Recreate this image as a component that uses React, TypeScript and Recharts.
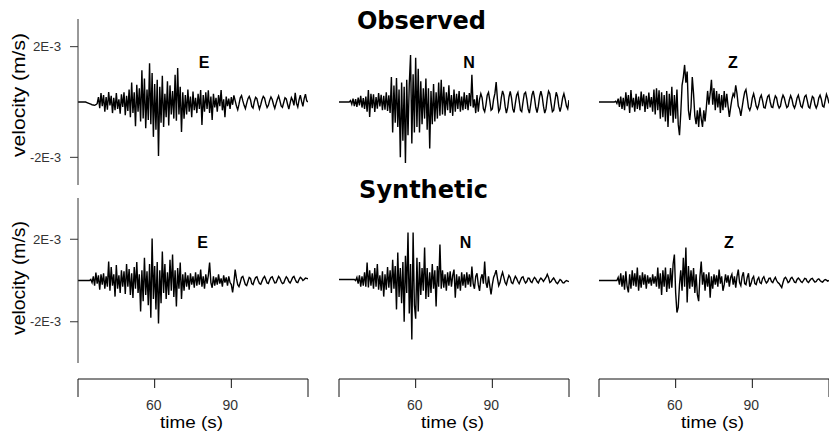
import { LineChart, Line, XAxis, YAxis } from "recharts";

// Three-component seismograms, observed vs synthetic.
// Velocities are stored in units of 1e-4 m/s, sampled every 0.5 s from t = 30 s.
const START_S = 30;
const STEP_S = 0.5;
const TIME_TICKS = [30, 60, 90, 120];
const VEL_TICKS = [-20, 20];
const COMPONENTS = ["E", "N", "Z"];

const obsE = [
  0, 0, 0, 0, 0, 0, 0, -0.2, -0.4, -0.6, -0.8, -1.0, -1.1, -1.2, -1.0, -0.6, 1.8, -2.2, 3.2, -1.5,
  2.5, -3.5, 1.8, -2.8, 3.6, -1.2, 2.2, -4, 1.5, -3, 3.2, -2.5, 1, -4.2, 2.8, -1.8, 3.5, -4.8, 2.2, -3.2,
  4.5, -5.5, 7, -4, 3.5, -8.8, 6.2, -3.5, 5, -7, 11.5, -6, 8.5, -9.5, 4.5, -6.5, 14, -8, 10.5, -12.6,
  6.5, -10, 8, -19.5, 5.5, -7.5, 9.5, -9, 3, -5.5, 7.5, -8.5, 6, -4.5, 4, -6, 9.8, -6.8, 12.3, -4.5,
  5.5, -10.8, 3.5, -6, 2.5, -4.5, 4.5, -3.5, 2, -5.5, 3.8, -3, 1.5, -4, 3, -2.5, 4.3, -8.3, 2.5, -3.5,
  3.5, -2.5, 4.2, -4, 2, -6.5, 3, -2, 1.5, -3.5, 2.5, -1.5, 4.3, -3, 1, -5.5, 2, -1.5, 1.2, -2.5,
  1.8, -1, 2.4, 0.5, -1.5, -2.8, -0.8, 1.5, 2.3, 0.4, -1.2, -2.4, -0.5, 1.2, 2, 0.8, -1.6, -2.2, 0.2, 1.7,
  1.2, -0.8, -2.5, -1, 0.8, 2, 1.4, -0.6, -2, -1.2, 0.6, 1.8, 0.9, -0.9, -2.3, -0.6, 1, 2.2, 0.5, -1.4,
  -1.9, -0.2, 1.5, 1.1, -0.8, -2.6, -0.4, 1.6, 0.6, -1.2, 3.3, -0.5, -1.8, 0.8, 2.5, 0.2, -1.6, 1.2, 2.8, 0.4,
  0,
];

const obsN = [
  0, 0, 0, 0, 0, 0, 0, 0, 0, 0.5, -0.8, 1.2, -1.5, 1, -1.8, 1.6, -1.2, 2.2, -2, 1.4,
  -2.5, 2, -3.5, 4.3, -5.4, 3, -2.2, 2.8, -3.6, 1.8, -2.4, 3.2, -1.6, 2.6, -3, 2.2, -2.8, 3.5, -3.2, 2.4,
  -4, 9, -11, 6, -7.5, 8.7, -9, 4.5, -20, 7, -14, 5.5, -22, 8, -12, 6.5, 17, -15, 10, -11,
  16, -9, 12, -11, 7.5, -8, 5, -6, 8.5, -10, 5, -16.8, 4, -8, 6.5, -7, 3.5, -6, 7, -5,
  8, -4.5, 5.5, -5, 3.5, -3, 6, -4, 2.5, -5, 4.5, -3.5, 3, -2.5, 4, -3.5, 2, -3, 3.5, -2.5,
  2.5, -3, 3.2, -1.5, 9.8, -2, 1, -4, 2.5, -3.5, 1, 3, 1.5, -2.5, -3.5, -1, 2.5, 3.5, 0.5, -3,
  -2.5, 1, 3, 7.2, 1, -3.5, -2.5, 1.5, 4, 2.5, -1.5, -4, -2, 1.8, 3.8, 1.5, -2.5, -3.8, -0.5, 2.5,
  3.5, 0.5, -3, -3.5, 0, 3, 3.5, 1, -2.5, -4, -1, 2.5, 4, 1.5, -2, -3.8, -1.5, 2, 3.9, 2,
  -1.5, -4, -2.5, 1.5, 3.9, 3, -0.5, -3.5, -3, 0.5, 3.5, 2, -1.5, -3.5, -1.5, 1.5, 3, 1, -1.5, -2.5,
  0.7,
];

const obsZ = [
  0, 0, 0, 0, 0, 0, 0, 0, 0, 0, 0, 0, 0, 0.3, -0.5, 1.2, -1.8, 2, -2.5, 1.5,
  -3, 3.5, -1.5, 2.5, -4, 4.3, -2, 1.5, -3.5, 3, -2.5, 2, -3, 3.8, -1.5, 2.8, -3.6, 2.2, -2.5, 3.4,
  -2, 1.8, -3.5, 4.5, -4.5, 5, -3, 4.2, -6, 3.5, -5.5, 2.5, -7, 4, -9, 3, -5, 5.5, -7.5, 2.5,
  -6, 4.5, -8, -12, -4, 6, 9, 13.4, 7, 11, -3, -6.5, -2, 9, 3, -5, -8, -3, -9, -2,
  -6, -9, -3, -7, -2, 4, -1, 3, 8, -1, 5, -3, 4, -2, 3, -4, 2.5, -3, 4, -2,
  3, -1.5, -5.4, -2, 1, 3, 2, 6, 3, -1.5, -2.5, -5, -2, 1, 3.5, 4.5, 1.5, -2, -3, -1.5,
  1.5, 3, 1, -1.5, -2.5, -1, 1.5, 2.5, 0.5, -2, -2.2, 0, 2, 2.5, 0, -1.8, -2, 0.5, 2.2, 1.5,
  -1, -2.2, -1.5, 1, 2.5, 1.5, -0.5, -2, -1.5, 0.8, 2.3, 1, -1.2, -2.2, -0.8, 1.5, 2.5, 0.5, -1.5, -2,
  0, 2, 2.5, 0.5, -1.8, -2.2, 0, 2, 1.5, -1, -2.2, -1, 1.5, 2.5, 1, -1.5, -1.8, 0.5, 2.8, 1.5,
  -0.5,
];

const synE = [
  0, 0, 0, 0, 0, 0, 0, 0, 0, 0, 0.5, -1, 2, -2.5, 3.9, -1.5, 2.5, -4.4, 3, -2,
  3.5, -4, 2, -3, 9.2, -5, 6.5, -2.5, 3, -7.8, 7.5, -4, 2.5, -6, 5, -3, 4.5, -6.5, 8, -3,
  5.5, -7, 3.5, -8.5, 6.5, -4, 9, -6, 3, -15, 5, -10, 11, -7, 4.5, -12, 8, -18, 20.4, -9,
  7, -14, 9, -20.9, 5, -11, 14, -6, 8, -9, 4, -7, 10, -5, 12.6, -8, 5, -12.6, 6, -4,
  8.7, -9, 3, -5, 4, -3, 2.5, -4.4, 3.5, -2, 2, -3.5, 4, -2.5, 3, -2, 5.3, -3, 2, -4,
  3, -1.5, 2.5, 8.7, -1, -3.5, 2, -2.5, 1.5, -2, 3, -1.5, 1, -3, 2.5, -1, 1.5, -2.5, 2, -1,
  -2, -5.8, -1, 5.3, 1, -2, -3, -1, 1.5, 2, 0, -2, -2.5, -0.5, 1.5, 1, -1.5, -2, 0, 1.5,
  1.8, 0, -1.5, -1.8, -0.3, 1.2, 2, 0.5, -1.2, -1.5, 0.2, 1.5, 1.8, 0.2, -1.2, -1, 0.5, 2, 1.2, -0.5,
  -1.5, -1.2, 0.5, 1.8, 1, -0.5, -1.2, 0, 1.5, 2, 0.5, -0.8, -1, 0.5, 1.5, 1, 0, 0.5, 1.2, 1,
  0.8,
];

const synN = [
  0.5, 0.5, 0.5, 0.5, 0.5, 0.5, 0.5, 0.5, 0.5, 0.5, 0.5, 0.5, 0.5, 0, 1.5, -1.5, 2.5, -3, 2, -2.5,
  4, -3, 8.7, -3.4, 5, -2.5, 3.5, -4, 6, -3, 8, -4.5, 2.5, -5, 4.5, -7.8, 3, -4.5, 6.5, -3.5,
  5, -6, 10, -4, 7, -14, 13.6, -8, 6, -11, 9, -20, 12, -6, 23.3, -16, 8, -28.6, 23.3, -12,
  -18.5, 11, -15, 9, -7, 6, -5, 16, -9, 6, -8, 4, -6, 8, -4, 5, -12.6, 7, -3, 17.5,
  -4, 5, -3.5, 3, -5, 4, -2.5, 4.5, -3, 2.5, 5.3, -8.3, 3, -4, 2, -5, 4, -2.5, 3, -3.5,
  4, -2, 3, -3, 6.8, -1.5, -4, 2, 3.5, -2, -5, 1, 3, -1.5, 9.2, -1, -3.5, 2, -2.5, -6.8,
  -2, 1.5, 3, 5, 1, -2.5, -1, 2, 4, 1.5, -1, -2, 0.5, 2.5, 1.5, -1, -1.5, 0.5, 2, 1,
  -0.5, -1.5, 0, 1.5, 1.8, 0, -1.2, -0.5, 1.2, 1, -0.5, -1, 0.5, 1.5, 0.8, -0.5, -1.2, 0.3, 1.2, 0.5,
  -0.5, 0.5, 1.5, 3, 1.5, -1, -0.5, 0.5, 1.2, 0.2, -1, -1.5, -0.5, 0.5, 0, -1, -1.2, -0.5, 0, -0.3,
  -0.5,
];

const synZ = [
  0, 0, 0, 0, 0, 0, 0, 0, 0, 0, 0, 0, 0, 0, 0, 1.5, -2, 3.5, -3, 2.5,
  -4.5, 4.5, -3, -5.8, 3, -4, 5, -2.5, 3.5, -3, 6.3, -5, 2.5, -3.5, 4, -2, 3, -4, 2.5, -1.5,
  1.5, -2.5, 3, -1.5, 2, -3, 6.3, -4, 3.5, -7, 5, -3, 6.3, -5.5, 3, -4, 6, -3.5, 8, 12.6,
  -6, -15.5, -13, -2, 5, -5, 11, -3, 16, -10.7, 7, -4, 5, -3, 6, -6, 3, -7, -10, 2,
  9.2, -2, 4, -5, 3, -3, 4, -8.3, 2, -4, 3, -2, 2.5, -3, 5.3, -1.5, 2, -5, -2, 3,
  -1, 2.5, -3, 1.5, 3, -2, 2, -3.5, 2, 5.3, -1, -2.5, 2, 4, -1.5, -2, 1.5, 3.5, -3, -1.5,
  1, 2, -1.5, -2, 0.5, 1.5, -1, -1.5, 1, 1.8, 0, -1.2, -0.5, 1, 1.2, -0.5, -1, 0.5, 1.5, 0,
  -1, -1.5, -2.5, -3.4, -1, 1, 1.5, 0.5, -1, -0.5, 1, 1.5, 0.5, -0.8, -1, 0.5, 1.2, 0.5, -0.5, -1,
  0, 1, 0.8, -0.5, -1, 0, 0.8, 1, 0, -0.8, -0.5, 0.5, 0.8, 0, -0.5, -0.8, 0, 0.5, 0.2, -0.3,
  0,
];

const FONT = '"Liberation Sans", Arial, sans-serif';
const TITLE_FONT = '"DejaVu Sans", sans-serif';
const PLOT_W = 230;
const Y_AXIS_W = 78;
const COL_X = [78, 339, 599];

const ROWS = [
  {
    title: "Observed",
    titleX: 421.5,
    titleY: 29,
    top: 19,
    height: 166,
    domain: [-30, 30],
    traces: [obsE, obsN, obsZ],
    labelX: [204, 469, 733],
    labelY: 68,
    velY: 95,
    velLen: 124,
  },
  {
    title: "Synthetic",
    titleX: 423.5,
    titleY: 198,
    top: 198,
    height: 165,
    domain: [-40, 40],
    traces: [synE, synN, synZ],
    labelX: [202.5, 465.5, 729],
    labelY: 248,
    velY: 278,
    velLen: 114,
  },
];

function toRows(values: number[]) {
  return values.map((v, i) => ({ t: START_S + i * STEP_S, v }));
}

const fmtVel = (v: number) => `${v / 10}E-3`;

function VelTick({ x, y, payload }: any) {
  const label = fmtVel(payload.value);
  return (
    <text
      x={x}
      y={y + 4.5}
      textAnchor="end"
      fontFamily={FONT}
      fontSize={12.5}
      textLength={label.length > 4 ? 31 : 28}
      lengthAdjust="spacingAndGlyphs"
      fill="#333"
    >
      {label}
    </text>
  );
}

function TimeTick({ x, y, payload }: any) {
  const end = payload.value === TIME_TICKS[0] || payload.value === TIME_TICKS[TIME_TICKS.length - 1];
  return (
    <g>
      <line x1={x} y1={y} x2={x} y2={y + (end ? 18 : 9)} stroke="#111" strokeWidth={1} />
      {!end && (
        <text x={x - 1} y={y + 31} textAnchor="middle" fontFamily={FONT} fontSize={14} fill="#333">
          {payload.value}
        </text>
      )}
    </g>
  );
}

function Panel({ row, col }: { row: (typeof ROWS)[number]; col: number }) {
  const withAxis = col === 0;
  const left = withAxis ? COL_X[0] - Y_AXIS_W : COL_X[col];
  const width = withAxis ? Y_AXIS_W + PLOT_W : PLOT_W + 1;
  return (
    <div style={{ position: "absolute", left, top: row.top }}>
      <LineChart
        width={width}
        height={row.height}
        data={toRows(row.traces[col])}
        margin={{ top: 0, right: withAxis ? 0 : 1, bottom: 0, left: 0 }}
      >
        <XAxis dataKey="t" type="number" domain={[30, 120]} hide allowDataOverflow />
        <YAxis
          type="number"
          domain={row.domain}
          ticks={VEL_TICKS}
          hide={!withAxis}
          width={Y_AXIS_W}
          tick={<VelTick />}
          axisLine={{ stroke: "#333" }}
          tickLine={{ stroke: "#333" }}
          tickSize={8}
          tickMargin={9}
          allowDataOverflow
        />
        <Line
          type="linear"
          dataKey="v"
          stroke="#000"
          strokeWidth={1.4}
          strokeLinejoin="miter"
          dot={false}
          isAnimationActive={false}
        />
      </LineChart>
    </div>
  );
}

function TimeAxis({ col }: { col: number }) {
  return (
    <div style={{ position: "absolute", left: COL_X[col] - 2, top: 378 }}>
      <LineChart
        width={PLOT_W + 4}
        height={57}
        data={TIME_TICKS.map((t) => ({ t }))}
        margin={{ top: 0, right: 2, bottom: 0, left: 2 }}
      >
        <XAxis
          dataKey="t"
          type="number"
          domain={[30, 120]}
          ticks={TIME_TICKS}
          interval={0}
          height={56}
          tickLine={false}
          tickSize={0}
          tickMargin={0}
          axisLine={{ stroke: "#111" }}
          tick={<TimeTick />}
        />
        <YAxis type="number" domain={[0, 1]} hide />
      </LineChart>
    </div>
  );
}

export default function App() {
  return (
    <div style={{ position: "relative", width: 829, height: 435, background: "#fff", overflow: "hidden" }}>
      <style>{"body{margin:0}"}</style>
      {ROWS.map((row, r) =>
        COMPONENTS.map((_, c) => <Panel key={`${r}-${c}`} row={row} col={c} />)
      )}
      {COMPONENTS.map((_, c) => (
        <TimeAxis key={c} col={c} />
      ))}
      <svg
        width={829}
        height={435}
        style={{ position: "absolute", left: 0, top: 0, pointerEvents: "none" }}
      >
        {ROWS.map((row) => (
          <g key={row.title}>
            <text
              x={row.titleX}
              y={row.titleY}
              textAnchor="middle"
              fontFamily={TITLE_FONT}
              fontWeight="bold"
              fontSize={24}
              fill="#000"
            >
              {row.title}
            </text>
            {COMPONENTS.map((name, c) => (
              <text
                key={name}
                x={row.labelX[c]}
                y={row.labelY}
                textAnchor="middle"
                fontFamily={FONT}
                fontWeight="bold"
                fontSize={16}
                fill="#000"
              >
                {name}
              </text>
            ))}
            <text
              transform={`translate(25,${row.velY}) rotate(-90)`}
              textAnchor="middle"
              fontFamily={FONT}
              fontSize={18}
              textLength={row.velLen}
              lengthAdjust="spacingAndGlyphs"
              fill="#000"
            >
              velocity (m/s)
            </text>
          </g>
        ))}
        {COL_X.map((x) => (
          <text
            key={x}
            x={x + PLOT_W / 2 - 1.5}
            y={428}
            textAnchor="middle"
            fontFamily={FONT}
            fontSize={16}
            textLength={63}
            lengthAdjust="spacingAndGlyphs"
            fill="#000"
          >
            time (s)
          </text>
        ))}
      </svg>
    </div>
  );
}
